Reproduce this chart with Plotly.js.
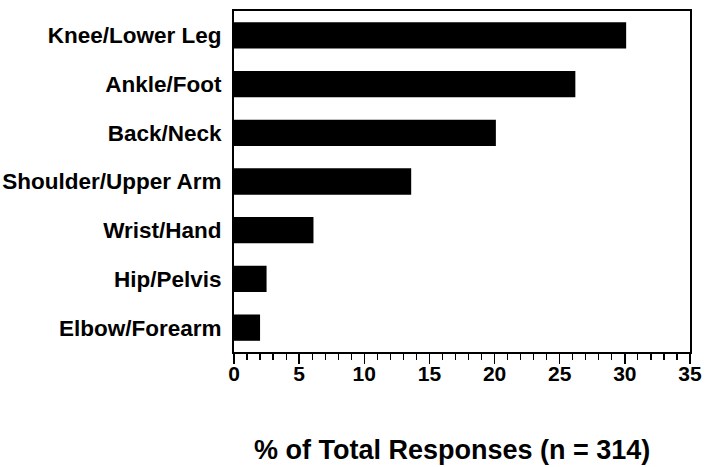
<!DOCTYPE html>
<html>
<head>
<meta charset="utf-8">
<script src="https://cdn.plot.ly/plotly-3.0.1.min.js"></script>
<style>html,body{margin:0;padding:0;background:#fff;}#chart{width:705px;height:467px;}</style>
</head>
<body>
<div id="chart"></div>
<script>
const categories = ["Knee/Lower Leg", "Ankle/Foot", "Back/Neck", "Shoulder/Upper Arm", "Wrist/Hand", "Hip/Pelvis", "Elbow/Forearm"];
const percentages = [30.1, 26.2, 20.1, 13.6, 6.1, 2.5, 2.0];
const xTickValues = [0, 5, 10, 15, 20, 25, 30, 35];
const xTitle = "% of Total Responses (n = 314)";

const font = "'Liberation Sans', Arial, Helvetica, sans-serif";

Plotly.newPlot("chart", [{
  type: "bar",
  orientation: "h",
  x: percentages,
  y: categories,
  width: 0.54,
  marker: {color: "#000000", line: {width: 0}},
  hoverinfo: "x+y"
}], {
  width: 705, height: 467,
  margin: {l: 234, r: 15, t: 11, b: 115},
  paper_bgcolor: "#ffffff",
  plot_bgcolor: "#ffffff",
  showlegend: false,
  font: {family: font, color: "#000"},
  xaxis: {
    range: [0, 35],
    tickvals: xTickValues,
    ticktext: xTickValues.map(String),
    ticks: "outside", ticklen: 10, tickwidth: 1.5, tickcolor: "#000",
    ticklabelstandoff: -8,
    minor: {dtick: 1, ticks: "outside", ticklen: 6, tickwidth: 1.2, tickcolor: "#000", showgrid: false},
    showline: true, linecolor: "#000", linewidth: 2, mirror: true,
    showgrid: false, zeroline: false,
    tickfont: {family: font, size: 21, color: "#000", weight: "bold"},
    fixedrange: true
  },
  yaxis: {
    type: "category",
    categoryorder: "array",
    categoryarray: categories.slice().reverse(),
    range: [-0.5, 6.5],
    ticks: "", ticklabelstandoff: 6,
    showline: true, linecolor: "#000", linewidth: 2, mirror: true,
    showgrid: false, zeroline: false,
    tickfont: {family: font, size: 22.5, color: "#000", weight: "bold"},
    fixedrange: true
  },
  annotations: [{
    text: xTitle,
    xref: "paper", yref: "paper",
    x: 0.477, y: -0.288,
    xanchor: "center", yanchor: "middle",
    showarrow: false,
    font: {family: font, size: 27, color: "#000", weight: "bold"}
  }]
}, {displayModeBar: false, staticPlot: true});
</script>
</body>
</html>
